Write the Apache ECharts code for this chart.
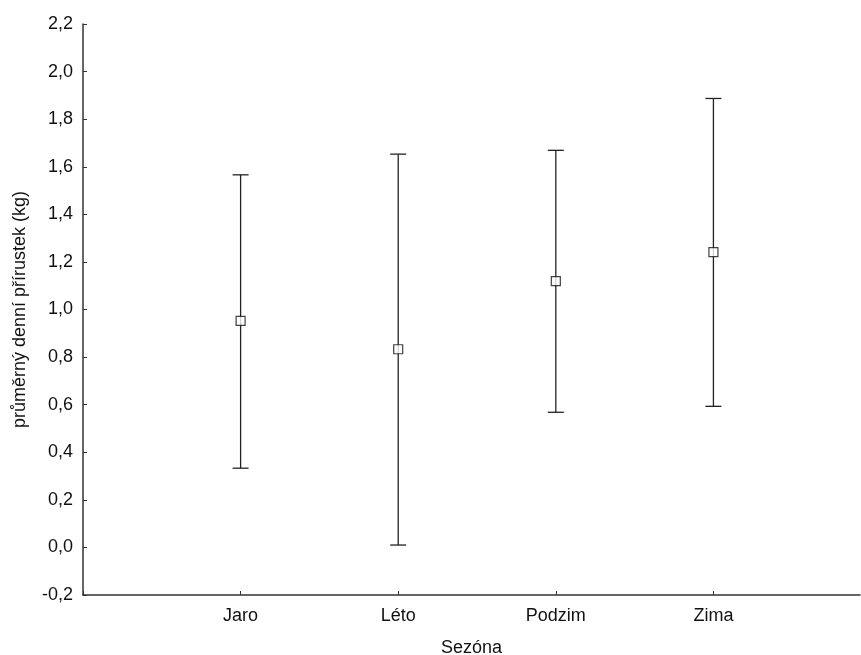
<!DOCTYPE html>
<html>
<head>
<meta charset="utf-8">
<script src="https://cdn.jsdelivr.net/npm/echarts@6/dist/echarts.min.js"></script>
<style>html,body{margin:0;padding:0;background:#fff}#c{width:861px;height:655px}</style>
</head>
<body>
<div id="c"></div>
<script>
var categories = ['Jaro', 'Léto', 'Podzim', 'Zima'];
var means = [0.952, 0.833, 1.119, 1.241];
var lower = [0.333, 0.010, 0.568, 0.593];
var upper = [1.566, 1.653, 1.669, 1.887];

var font = 'Liberation Sans, Arial, sans-serif';
var chart = echarts.init(document.getElementById('c'));
var errData = categories.map(function (c, i) { return [i + 1, lower[i], upper[i]]; });
var meanData = categories.map(function (c, i) { return [i + 1, means[i]]; });

chart.setOption({
  animation: false,
  grid: { left: 83, top: 24, right: 1, bottom: 60, containLabel: false, outerBoundsMode: 'none' },
  xAxis: {
    type: 'value', min: 0, max: 4.93, interval: 1,
    name: 'Sezóna', nameLocation: 'middle', nameGap: 44,
    nameTextStyle: { fontFamily: font, fontSize: 18, color: '#111' },
    axisLine: { show: true, onZero: false, lineStyle: { color: '#333', width: 1.5 } },
    axisTick: { show: true, inside: true, length: 4, lineStyle: { color: '#333' } },
    splitLine: { show: false },
    axisLabel: {
      fontFamily: font, fontSize: 18, color: '#111', margin: 12,
      showMaxLabel: false,
      formatter: function (v) { return categories[v - 1] || ''; }
    }
  },
  yAxis: {
    type: 'value', min: -0.2, max: 2.2, interval: 0.2,
    name: 'průměrný denní přírustek (kg)', nameLocation: 'middle', nameGap: 54,
    nameTextStyle: { fontFamily: font, fontSize: 18, color: '#111', padding: [0, 0, 0, 0] },
    axisLine: { show: true, onZero: false, lineStyle: { color: '#333', width: 1.5 } },
    axisTick: { show: true, inside: true, length: 4, lineStyle: { color: '#333' } },
    splitLine: { show: false },
    axisLabel: {
      fontFamily: font, fontSize: 18, color: '#111', margin: 10,
      formatter: function (v) { return (Math.round(v * 10) / 10).toFixed(1).replace('.', ','); }
    }
  },
  series: [
    {
      type: 'custom',
      data: errData,
      renderItem: function (params, api) {
        var x = api.value(0);
        var lo = api.coord([x, api.value(1)]);
        var hi = api.coord([x, api.value(2)]);
        var hw = 8;
        var st = { stroke: '#222', lineWidth: 1.3, fill: null };
        return {
          type: 'group',
          children: [
            { type: 'line', shape: { x1: lo[0], y1: lo[1], x2: hi[0], y2: hi[1] }, style: st },
            { type: 'line', shape: { x1: lo[0] - hw, y1: lo[1], x2: lo[0] + hw, y2: lo[1] }, style: st },
            { type: 'line', shape: { x1: hi[0] - hw, y1: hi[1], x2: hi[0] + hw, y2: hi[1] }, style: st }
          ]
        };
      },
      z: 1
    },
    {
      type: 'scatter',
      data: meanData,
      symbol: 'rect',
      symbolSize: 9,
      itemStyle: { color: '#fff', borderColor: '#111', borderWidth: 1.2 },
      z: 3
    }
  ]
});
</script>
</body>
</html>
